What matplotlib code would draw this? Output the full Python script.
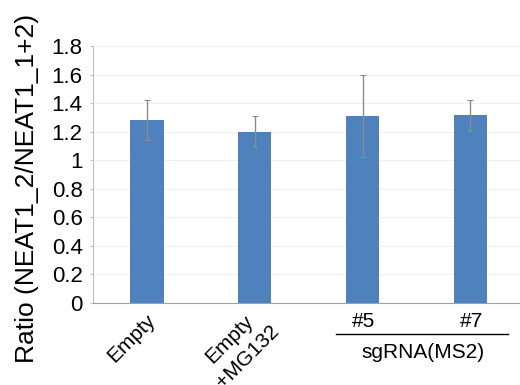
import matplotlib.pyplot as plt
import numpy as np

plt.rcParams['font.family'] = ['Liberation Sans', 'DejaVu Sans']

# ratio of NEAT1_2 to total NEAT1, mean and error per condition
labels = ['Empty', 'Empty\n+MG132', '#5', '#7']
ratio = [1.28, 1.20, 1.31, 1.315]
err = [0.14, 0.11, 0.29, 0.11]
group_label = 'sgRNA(MS2)'

bar_color = '#4F81BD'

fig = plt.figure(figsize=(5.2, 3.85), dpi=100)
ax = fig.add_axes([0.179, 0.213, 0.829, 0.6675])

x = np.arange(len(labels))
ax.bar(x, ratio, width=0.31, color=bar_color, zorder=2)
ax.errorbar(x, ratio, yerr=err, fmt='none', ecolor='#8C8C8C', elinewidth=1,
            capsize=2, capthick=0.8, zorder=3)

ax.set_ylim(0, 1.8)
ax.set_xlim(-0.5, 3.5)
ax.set_yticks(np.arange(0, 1.81, 0.2))
ax.set_yticklabels(['0', '0.2', '0.4', '0.6', '0.8', '1', '1.2', '1.4', '1.6', '1.8'])
ax.yaxis.grid(True, color='#F0F0F0', linewidth=0.8, zorder=0)
ax.set_axisbelow(True)

for side in ['top', 'right']:
    ax.spines[side].set_visible(False)
ax.spines['left'].set_color('#BFBFBF')
ax.spines['bottom'].set_color('#A0A0A0')
ax.tick_params(axis='y', length=2.5, color='#BFBFBF', labelsize=16, pad=5)
ax.tick_params(axis='x', length=0)

ax.set_ylabel('Ratio (NEAT1_2/NEAT1_1+2)', fontsize=19)
ax.yaxis.set_label_coords(-0.125, 0.445)

ax.set_xticks(x)
ax.set_xticklabels([])
trans = ax.get_xaxis_transform()

# rotated labels for the control lanes (anchor offsets per label)
rot_pos = {0: (-0.01, -0.028), 1: (-0.03, -0.005)}
for i, (dx, dy) in rot_pos.items():
    ax.text(i + dx, dy, labels[i], transform=trans, ha='right', va='top',
            rotation=45, rotation_mode='anchor', multialignment='center',
            linespacing=1.4, fontsize=15)

# flat labels for the sgRNA lanes
for i in [2, 3]:
    ax.text(i + 0.01, -0.035, labels[i], transform=trans, ha='center',
            va='top', fontsize=15)

# bracket line under the sgRNA lanes
ax.plot([1.75, 3.35], [-0.121, -0.121], color='black', linewidth=1,
        transform=trans, clip_on=False)
ax.text(2.56, -0.155, group_label, transform=trans, ha='center', va='top',
        fontsize=15)

fig.savefig('out.png', dpi=100)
